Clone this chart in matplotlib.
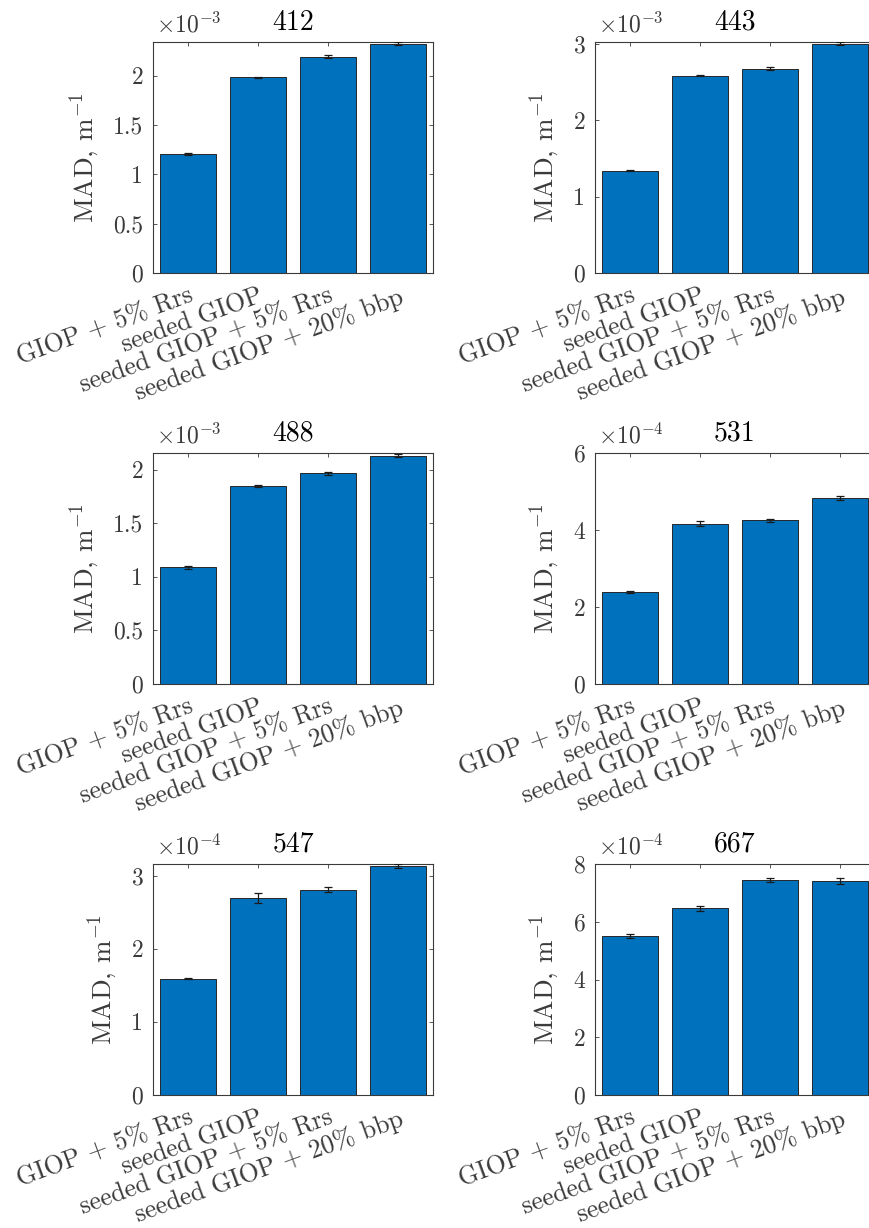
import matplotlib
matplotlib.use("Agg")
import matplotlib.pyplot as plt
from matplotlib.ticker import FuncFormatter, MultipleLocator

plt.rcParams['font.family'] = 'serif'
plt.rcParams['font.serif'] = ['cmr10']
plt.rcParams['mathtext.fontset'] = 'cm'
plt.rcParams['axes.unicode_minus'] = False
plt.rcParams['axes.formatter.use_mathtext'] = True

# methods compared (same order in every panel)
methods = ['GIOP + 5% Rrs', 'seeded GIOP', 'seeded GIOP + 5% Rrs',
           'seeded GIOP + 20% bbp']

# wavelengths, nm
bands = ['412', '443', '488', '531', '547', '667']

# mean absolute difference, m^-1
mad_412 = [1.209e-3, 1.983e-3, 2.193e-3, 2.324e-3]
mad_443 = [1.339e-3, 2.582e-3, 2.669e-3, 3.000e-3]
mad_488 = [1.087e-3, 1.848e-3, 1.966e-3, 2.130e-3]
mad_531 = [2.385e-4, 4.163e-4, 4.258e-4, 4.830e-4]
mad_547 = [1.591e-4, 2.699e-4, 2.809e-4, 3.128e-4]
mad_667 = [5.50e-4, 6.467e-4, 7.445e-4, 7.40e-4]

# error bar half-lengths, m^-1
err_412 = [0.010e-3, 0.005e-3, 0.015e-3, 0.015e-3]
err_443 = [0.010e-3, 0.008e-3, 0.020e-3, 0.018e-3]
err_488 = [0.010e-3, 0.006e-3, 0.012e-3, 0.015e-3]
err_531 = [0.02e-4, 0.07e-4, 0.04e-4, 0.05e-4]
err_547 = [0.01e-4, 0.07e-4, 0.03e-4, 0.027e-4]
err_667 = [0.08e-4, 0.08e-4, 0.06e-4, 0.10e-4]

mads = [mad_412, mad_443, mad_488, mad_531, mad_547, mad_667]
errs = [err_412, err_443, err_488, err_531, err_547, err_667]

# axis settings per panel: exponent, upper y limit, tick step
exps = [-3, -3, -3, -4, -4, -4]
ytops = [2.341e-3, 3.02e-3, 2.155e-3, 6e-4, 3.16e-4, 8e-4]
ysteps = [0.5e-3, 1e-3, 0.5e-3, 2e-4, 1e-4, 2e-4]

gray = '#3a3a3a'
W, H = 870, 1228
fig = plt.figure(figsize=(W / 100, H / 100), dpi=100)

lefts = [153, 595]
tops = [42, 453, 864]
ax_w = 280
ax_h = 231

x = [1, 2, 3, 4]
for i in range(6):
    r, c = divmod(i, 2)
    ax = fig.add_axes([lefts[c] / W, 1 - (tops[r] + ax_h) / H, ax_w / W, ax_h / H])
    ax.bar(x, mads[i], width=0.8, color='#0072BD', edgecolor='#262626',
           linewidth=0.7, zorder=2)
    ax.errorbar(x, mads[i], yerr=errs[i], fmt='none', ecolor='#1a1a1a',
                elinewidth=0.9, capsize=3.2, capthick=0.9, zorder=3)
    ax.set_xlim(0.5, 4.5)
    ax.set_ylim(0, ytops[i])
    scale = 10.0 ** exps[i]
    ax.yaxis.set_major_locator(MultipleLocator(ysteps[i]))
    ax.yaxis.set_major_formatter(FuncFormatter(lambda v, p, s=scale: f'{v / s:g}'))
    ax.set_xticks(x)
    ax.set_xticklabels(methods, rotation=20, ha='right', va='top',
                       rotation_mode='anchor', fontsize=18.5, color=gray)
    ax.tick_params(axis='x', direction='in', top=True, length=3, width=0.6,
                   pad=8, color=gray)
    ax.tick_params(axis='y', direction='in', right=True, length=3, width=0.6,
                   pad=7, labelsize=17, labelcolor=gray, color=gray)
    for sp in ax.spines.values():
        sp.set_color(gray)
        sp.set_linewidth(0.8)
    ax.set_ylabel('MAD, m$^{-1}$', fontsize=19.5, color=gray, labelpad=8)
    ax.set_title(bands[i], fontsize=20, color='black', pad=9)
    ax.text(0.012, 1.04, r'$\times10^{%d}$' % exps[i], transform=ax.transAxes,
            ha='left', va='baseline', fontsize=17, color=gray)

fig.savefig('out.png', dpi=100)
